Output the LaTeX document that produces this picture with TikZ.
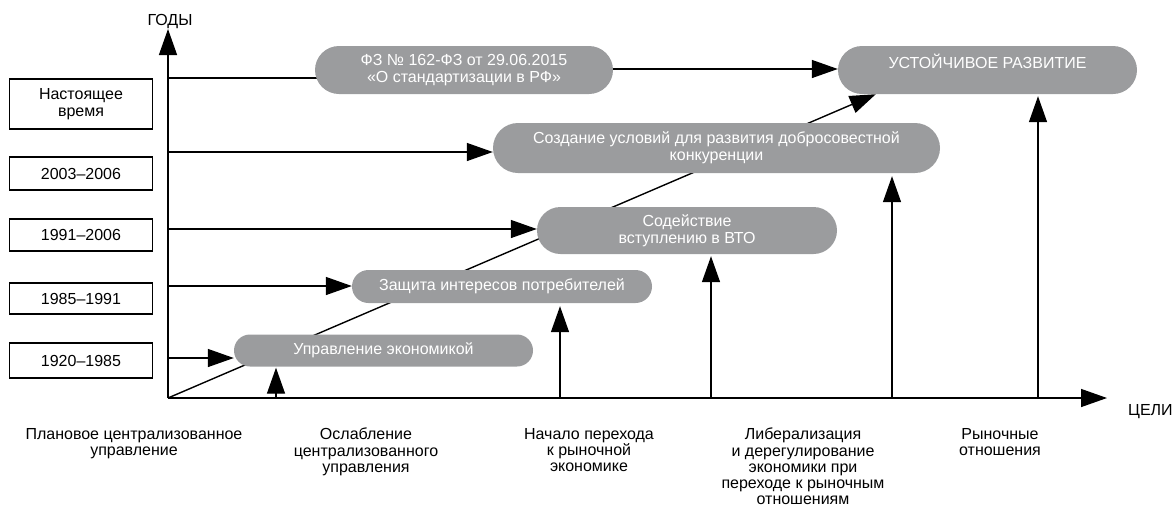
\documentclass[tikz,border=0pt]{standalone}
\usepackage{fontspec}
\setmainfont{Liberation Sans}
\usetikzlibrary{arrows.meta,calc,backgrounds}
\definecolor{pillgray}{RGB}{155,156,158}
\begin{document}
\begin{tikzpicture}[x=1pt,y=-1pt,
  every node/.style={font=\fontsize{16}{16.8}\selectfont, inner sep=0pt, align=center},
  pill/.style={fill=pillgray, text=white, rounded corners=#1},
  yearbox/.style={draw=black, line width=1.3pt, minimum width=143pt},
  conn/.style={line width=1.4pt},
  arr/.style={conn, -{Triangle[length=26pt,width=18pt]}},
  caption/.style={anchor=north, font=\fontsize{16}{16.2}\selectfont}]
\useasboundingbox (0,0) rectangle (1173,509);

% gray nodes
\node[pill=24pt, minimum width=298pt, minimum height=48pt] (fz) at (464,70)
  {ФЗ № 162-ФЗ от 29.06.2015\\«О стандартизации в РФ»};
\node[pill=24pt, minimum width=299pt, minimum height=48pt] (ust) at (987.5,70)
  {УСТОЙЧИВОЕ РАЗВИТИЕ\\\mbox{}};
\node[pill=25pt, minimum width=447pt, minimum height=50pt] (soz) at (716.5,148)
  {Создание условий для развития добросовестной\\конкуренции};
\node[pill=23.5pt, minimum width=300pt, minimum height=47pt] (sod) at (687,230.5)
  {Содействие\\вступлению в ВТО};
\node[pill=16.5pt, minimum width=300pt, minimum height=33pt] (zas) at (502,286.5)
  {Защита интересов потребителей};
\node[pill=16pt, minimum width=299pt, minimum height=32pt] (upr) at (383.5,350.5)
  {Управление экономикой};

% year boxes
\node[yearbox, minimum height=50pt] (now) at (81,104) {Настоящее\\время};
\node[yearbox, minimum height=33pt] (y2003) at (81,173.5) {2003–2006};
\node[yearbox, minimum height=32pt] (y1991) at (81,235) {1991–2006};
\node[yearbox, minimum height=31pt] (y1985) at (81,298.5) {1985–1991};
\node[yearbox, minimum height=35pt] (y1920) at (81,360.5) {1920–1985};

% axes
\coordinate (O) at (168,398);
\coordinate (ytip) at (168,29);
\coordinate (xtip) at (1107,398);
\draw[arr] (O) -- (ytip);
\draw[arr] (O) -- (xtip);
\node[anchor=south] (goda) at (170,29) {ГОДЫ};
\node[anchor=west] (celi) at (1128,412) {ЦЕЛИ};

% horizontal connectors from the year axis
\coordinate (h78) at (168,78);
\coordinate (h152) at (168,152);
\coordinate (h229) at (168,229);
\coordinate (h286) at (168,286);
\coordinate (h358) at (168,358);
\begin{scope}[on background layer]
\draw[conn] (h78) -- (h78 -| fz.center);
\coordinate (dtip) at ($(ust.south west)+(38,0)$);
\draw[arr] (O) -- (dtip);
\end{scope}
\draw[arr] (h152) -- (h152 -| soz.west);
\draw[arr] (h229) -- (h229 -| sod.west);
\draw[arr] (h286) -- (h286 -| zas.west);
\draw[arr] (h358) -- (h358 -| upr.west);
\draw[arr] ($(fz.east)+(0,-1)$) -- ($(ust.west)+(0,-1)$);

% vertical connectors from the goals axis
\coordinate (v276) at (276,398);
\coordinate (v560) at (560,398);
\coordinate (v711) at (711,398);
\coordinate (v892) at (892,398);
\coordinate (v1038) at (1038,398);
\draw[arr, shorten >=1pt] (v276) -- (v276 |- upr.south);
\draw[arr, shorten >=3pt] (v560) -- (v560 |- zas.south);
\draw[arr, shorten >=2pt] (v711) -- (v711 |- sod.south);
\draw[arr, shorten >=3pt] (v892) -- (v892 |- soz.south);
\draw[arr, shorten >=2pt] (v1038) -- (v1038 |- ust.south);

% goal captions
\node[caption] (c1) at (134,428) {Плановое централизованное\\управление};
\node[caption] (c2) at (366,428) {Ослабление\\централизованного\\управления};
\node[caption] (c3) at (589,428) {Начало перехода\\к рыночной\\экономике};
\node[caption] (c4) at (803,428) {Либерализация\\и дерегулирование\\экономики при\\переходе к рыночным\\отношениям};
\node[caption] (c5) at (1000,428) {Рыночные\\отношения};
\end{tikzpicture}
\end{document}
